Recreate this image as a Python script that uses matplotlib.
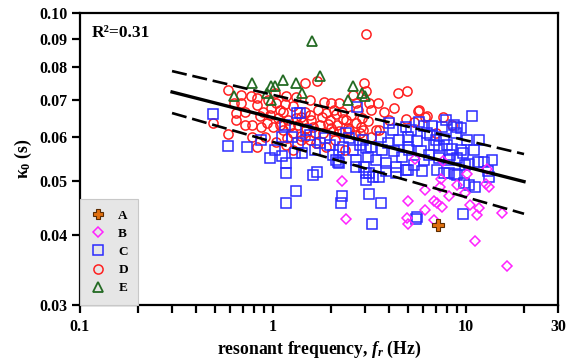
import matplotlib
matplotlib.use("Agg")
import matplotlib.pyplot as plt
from matplotlib.ticker import FixedLocator, NullFormatter, FixedFormatter
from matplotlib.lines import Line2D

plt.rcParams['font.family'] = ['Liberation Serif', 'DejaVu Serif']
plt.rcParams['font.weight'] = 'bold'
plt.rcParams['mathtext.fontset'] = 'custom'
plt.rcParams['mathtext.rm'] = 'Liberation Serif:bold'
plt.rcParams['mathtext.it'] = 'Liberation Serif:bold:italic'
plt.rcParams['mathtext.bf'] = 'Liberation Serif:bold'

# ---------------- data ----------------
A_f = [7.2]
A_k = [0.0417]

B_f = [2.29, 2.38, 5.02, 4.96, 5.02, 6.15, 6.13, 6.84, 7.06, 7.49, 6.84, 7.34, 7.39, 8.17,
       8.99, 9.88, 10.1, 10.45, 11.66, 11.35, 12.83, 12.64, 13.14, 15.33, 11.13, 16.27, 7.61, 5.46]
B_k = [0.0501, 0.0428, 0.0461, 0.0430, 0.0419, 0.0482, 0.0444, 0.0461, 0.0457, 0.0450, 0.0426,
       0.0489, 0.0504, 0.0470, 0.0492, 0.0477, 0.0515, 0.0453, 0.0447, 0.0435, 0.0526, 0.0494,
       0.0489, 0.0439, 0.0391, 0.0352, 0.0543, 0.0548]

C_f = [0.49, 0.585, 0.73, 0.87, 1.02, 0.97, 1.12, 1.17, 1.17, 1.31, 1.17, 1.34, 1.11, 1.25,
       1.30, 1.61, 1.70, 2.05, 2.17, 2.29, 3.16, 3.63, 3.27, 3.02, 3.04, 3.31, 2.70, 4.34,
       2.72, 10.7, 5.55, 9.6, 11.2, 13.1, 13.6, 11.5, 10.4, 8.8, 7.7, 7.1, 5.95, 4.98, 3.85,
       6.08, 6.7, 7.5, 8.68, 9.0, 8.85, 4.98, 5.6, 6.55, 6.98, 7.7, 8.0, 8.5, 9.4, 9.7, 8.3,
       9.0, 5.85, 5.09, 6.8, 8.18, 9.0, 9.78, 4.88,
       1.38, 1.49, 1.75, 1.65, 2.13, 2.21, 2.30, 2.59, 2.81, 3.04, 2.70, 3.10, 2.98, 3.16,
       3.56, 3.42, 3.86, 4.01, 4.17, 4.52, 4.88, 4.98, 4.68, 4.34, 3.62, 2.26, 2.40, 2.21,
       2.49, 2.92, 3.22, 3.69, 3.93, 4.26, 1.41,
       1.55, 1.85, 1.97, 1.35, 1.15,
       5.2, 5.73, 6.3, 7.27, 7.9, 9.4, 10.1, 9.9, 11.0, 11.7, 12.4, 10.4, 8.18, 7.27, 6.45,
       6.08, 5.40, 13.0, 5.5]
C_k = [0.0660, 0.0578, 0.0575, 0.0592, 0.0569, 0.0549, 0.0555, 0.0539, 0.0518, 0.0481, 0.0457,
       0.0662, 0.0600, 0.0600, 0.0561, 0.0513, 0.0519, 0.0557, 0.0542, 0.0470, 0.0475, 0.0457,
       0.0419, 0.0518, 0.0502, 0.0508, 0.0531, 0.0516, 0.0679, 0.0654, 0.0431, 0.0437, 0.0488,
       0.0508, 0.0545, 0.0540, 0.0537, 0.0515, 0.0518, 0.0524, 0.0522, 0.0524, 0.0521,
       0.0628, 0.0628, 0.0624, 0.0630, 0.0624, 0.0610, 0.0600, 0.0591, 0.0605, 0.0592, 0.0596,
       0.0580, 0.0570, 0.0569, 0.0562, 0.0557, 0.0549, 0.0565, 0.0569, 0.0580, 0.0518, 0.0513,
       0.0496, 0.0524,
       0.0662, 0.0617, 0.0584, 0.0569, 0.0546, 0.0539, 0.0576, 0.0569, 0.0580, 0.0572, 0.0546,
       0.0553, 0.0531, 0.0517, 0.0509, 0.0546, 0.0539, 0.0635, 0.0617, 0.0592, 0.0626, 0.0576,
       0.0553, 0.0531, 0.0600, 0.0457, 0.0610, 0.0569, 0.0597, 0.0592, 0.0576, 0.0569, 0.0584,
       0.0565, 0.0561,
       0.0605, 0.0597, 0.0580, 0.0584, 0.0630,
       0.0617, 0.0638, 0.0610, 0.0578, 0.0643, 0.0622, 0.0592, 0.0535, 0.0569, 0.0592, 0.0540,
       0.0492, 0.0546, 0.0549, 0.0557, 0.0546, 0.0535, 0.0521, 0.0428]

D_f = [3.02, 1.46, 1.70, 2.98, 3.02, 0.585, 0.63, 0.68, 0.77, 0.83, 0.83, 0.64, 0.64, 0.49,
       0.585, 0.72, 0.78, 0.87, 0.78, 0.83, 1.02, 1.17, 1.04, 0.98, 1.09, 1.27, 1.56, 1.84,
       2.0, 2.21, 2.59, 2.70, 3.16, 3.49, 4.43, 4.95, 5.68, 6.15, 4.89, 5.40, 1.39, 1.55,
       1.89, 2.13, 2.40, 2.68, 2.86, 0.93, 1.0, 1.13, 1.27, 1.39, 1.61, 1.82, 2.0, 2.21, 2.49,
       2.81, 3.42, 1.68, 1.89, 2.35, 1.27, 1.04, 1.18, 0.91, 1.46, 1.97, 2.30, 2.92, 3.56,
       2.05, 1.46, 1.40, 7.62, 8.50, 6.99, 6.27, 5.66,
       0.96, 1.06, 1.13, 1.20, 1.22, 1.31, 1.35, 1.43, 1.48, 1.57, 1.65, 1.71, 1.75, 1.79,
       1.92, 2.06, 2.14, 2.27, 2.44, 2.55, 2.65, 2.75, 2.88, 3.09, 3.24, 3.78, 4.01, 4.26,
       1.15, 1.31, 0.89, 0.94, 1.17, 1.55, 2.09, 3.24, 0.86, 1.09, 0.72, 0.68]
D_k = [0.0916, 0.0748, 0.0756, 0.0748, 0.0726, 0.0728, 0.0690, 0.0689, 0.0710, 0.0703, 0.0684,
       0.0662, 0.0643, 0.0636, 0.0607, 0.0630, 0.0630, 0.0624, 0.0600, 0.0575, 0.0718, 0.0710,
       0.0690, 0.0675, 0.0670, 0.0681, 0.0700, 0.0694, 0.0690, 0.0689, 0.0713, 0.0689, 0.0689,
       0.0691, 0.0720, 0.0725, 0.0670, 0.0652, 0.0646, 0.0639, 0.0652, 0.0657, 0.0662, 0.0659,
       0.0643, 0.0635, 0.0626, 0.0635, 0.0626, 0.0617, 0.0610, 0.0601, 0.0626, 0.0610, 0.0622,
       0.0614, 0.0617, 0.0610, 0.0617, 0.0584, 0.0576, 0.0569, 0.0569, 0.0588, 0.0597, 0.0600,
       0.0666, 0.0643, 0.0647, 0.0617, 0.0617, 0.0614, 0.0600, 0.0592, 0.0651, 0.0630, 0.0610,
       0.0654, 0.0668,
       0.0657, 0.0649, 0.0664, 0.0643, 0.0628, 0.0649, 0.0630, 0.0638, 0.0622, 0.0643, 0.0610,
       0.0670, 0.0630, 0.0651, 0.0633, 0.0670, 0.0630, 0.0664, 0.0622, 0.0657, 0.0605, 0.0670,
       0.0649, 0.0641, 0.0670, 0.0664, 0.0643, 0.0675,
       0.0686, 0.0706, 0.0664, 0.0698, 0.0580, 0.0592, 0.0592, 0.0600, 0.0654, 0.0630, 0.0664,
       0.0713]

E_f = [1.6, 0.78, 0.98, 1.02, 1.13, 1.31, 1.41, 1.75, 0.63, 0.93, 0.98, 2.6, 2.45, 2.9, 3.0]
E_k = [0.089, 0.075, 0.074, 0.074, 0.076, 0.075, 0.072, 0.077, 0.071, 0.072, 0.070,
       0.074, 0.070, 0.072, 0.071]

line_f = [0.3, 20]
fit_k = [0.0722, 0.0499]
upper_k = [0.0787, 0.0559]
lower_k = [0.0662, 0.0437]

xticks_major = [0.1, 1, 10, 30]
xtick_labels = ['0.1', '1', '10', '30']
xticks_minor = [0.2, 0.3, 0.4, 0.5, 0.6, 0.7, 0.8, 0.9, 2, 3, 4, 5, 6, 7, 8, 9, 20]
yticks = [0.03, 0.04, 0.05, 0.06, 0.07, 0.08, 0.09, 0.10]
ytick_labels = ['0.03', '0.04', '0.05', '0.06', '0.07', '0.08', '0.09', '0.10']

# ---------------- figure ----------------
fig = plt.figure(figsize=(5.68, 3.61), dpi=100)
ax = fig.add_axes([0.1408, 0.1551, 0.8416, 0.8089])
ax.set_xscale('log')
ax.set_yscale('log')
ax.set_xlim(0.1, 30)
ax.set_ylim(0.03, 0.10)

ms = 6.6
mew = 1.1
ax.plot(D_f, D_k, 'o', ms=ms, mfc='none', mec='#ff2020', mew=mew, zorder=2)
ax.plot(C_f, C_k, 's', ms=ms, mfc='none', mec='#2b2bff', mew=mew, zorder=3)
ax.plot(B_f, B_k, 'D', ms=4.8, mfc='none', mec='#ff22ff', mew=mew, zorder=3)
ax.plot(E_f, E_k, '^', ms=ms, mfc='none', mec='#246b24', mew=1.3, zorder=4)
ax.plot(A_f, A_k, 'P', ms=8, mfc='#e07010', mec='#5a2a00', mew=0.8, zorder=4)

ax.plot(line_f, fit_k, '-', color='black', lw=2.4, zorder=5)
ax.plot(line_f, upper_k, color='black', lw=1.9, ls=(0, (5.7, 2.2)), zorder=5)
ax.plot(line_f, lower_k, color='black', lw=1.9, ls=(0, (5.7, 2.2)), zorder=5)

for s in ax.spines.values():
    s.set_linewidth(1.6)

ax.xaxis.set_major_locator(FixedLocator(xticks_major))
ax.xaxis.set_major_formatter(FixedFormatter(xtick_labels))
ax.xaxis.set_minor_locator(FixedLocator(xticks_minor))
ax.xaxis.set_minor_formatter(NullFormatter())
ax.yaxis.set_major_locator(FixedLocator(yticks))
ax.yaxis.set_major_formatter(FixedFormatter(ytick_labels))
ax.yaxis.set_minor_locator(FixedLocator([]))
ax.tick_params(axis='both', which='both', direction='out', length=6, width=1.6,
               labelsize=11.5, top=False, right=False)
ax.tick_params(axis='x', pad=4)
ax.tick_params(axis='y', pad=3)
for lab in ax.get_xticklabels() + ax.get_yticklabels():
    lab.set_fontweight('bold')

ax.set_xlabel(r'resonant frequency, $f_r$ (Hz)', fontsize=12.7, fontweight='bold', labelpad=3)
ax.set_ylabel(r'κ$_\mathbf{0}$ (s)', fontsize=12.7, fontweight='bold', labelpad=4)

ax.text(0.024, 0.93, 'R²=0.31', transform=ax.transAxes, fontsize=12.5,
        fontweight='bold', ha='left', va='center')

handles = [
    Line2D([], [], ls='none', marker='P', ms=7, mfc='#e07010', mec='#5a2a00', mew=0.8),
    Line2D([], [], ls='none', marker='D', ms=4.8, mfc='none', mec='#ff22ff', mew=mew),
    Line2D([], [], ls='none', marker='s', ms=ms, mfc='none', mec='#2b2bff', mew=mew),
    Line2D([], [], ls='none', marker='o', ms=ms, mfc='none', mec='#ff2020', mew=mew),
    Line2D([], [], ls='none', marker='^', ms=ms, mfc='none', mec='#246b24', mew=1.3),
]
leg = ax.legend(handles, ['A', 'B', 'C', 'D', 'E'], loc='lower left',
                bbox_to_anchor=(0.0, 0.0), borderaxespad=0.0, frameon=True,
                fancybox=False, framealpha=1, facecolor='#e6e6e6', edgecolor='#c8c8c8',
                prop={'family': 'Liberation Serif', 'weight': 'bold', 'size': 9.5},
                handlelength=1.2, handletextpad=0.9, labelspacing=0.45,
                borderpad=0.8)
leg.get_frame().set_linewidth(0.8)
leg.set_zorder(6)

fig.savefig('out.png', dpi=100)
